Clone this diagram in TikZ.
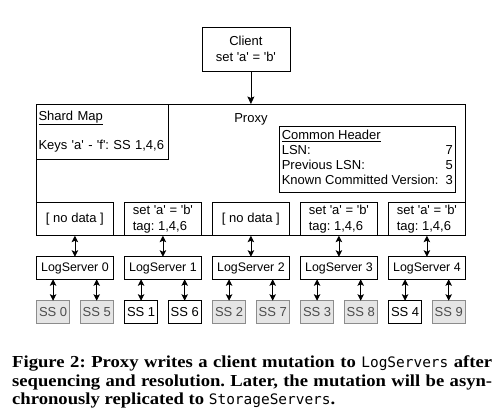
\documentclass[tikz,border=0pt]{standalone}
\usepackage{fontspec}
\setmainfont{Liberation Sans}
\newfontfamily\capfont{Liberation Serif}[FakeStretch=1.11]
\newfontfamily\capmono{DejaVu Sans Mono}[Scale=0.86]
\usetikzlibrary{arrows.meta,positioning}
\newcommand{\sq}{\textquotesingle}
\frenchspacing

\begin{document}
\begin{tikzpicture}[x=1pt,y=1pt,font=\fontsize{13}{15.6}\selectfont,
    box/.style={draw,line width=0.8pt,outer sep=0pt,inner sep=1pt,align=center},
    data/.style={box,minimum width=76.8pt,minimum height=33.4pt},
    logsrv/.style={box,minimum width=76.8pt,minimum height=22.6pt,font=\fontsize{12.4}{14.4}\selectfont},
    ss/.style={box,minimum width=33.2pt,minimum height=22.6pt},
    idle/.style={ss,draw=black!45,fill=black!10,text=black!70},
    dbl/.style={{Stealth[length=6.5pt,width=6.5pt,inset=1.5pt]}-{Stealth[length=6.5pt,width=6.5pt,inset=1.5pt]},line width=0.8pt}]
  \useasboundingbox (0,0) rectangle (504,-416);
  \node[box,minimum width=428.8pt,minimum height=131.7pt] (px) at (250.9,-169.85) {};
  \node[inner sep=0pt,below=9pt of px.north] (pxt) {Proxy};
  \node[box,minimum width=88pt,minimum height=44pt,above=33pt of px.north,xshift=-5pt] (cl) {Client\\set \sq a\sq{} = \sq b\sq};
  \node[box,align=left,text width=128pt,inner sep=2pt,minimum height=55pt,below right=0pt and 0pt of px.north west] (sm) {\underline{Shard Map}\\[13.4pt]Keys \sq a\sq{} - \sq f\sq: SS 1,4,6};
  \node[box,inner sep=2pt,minimum width=176pt,minimum height=66pt,below left=22pt and 10pt of px.north east] (ch) {\renewcommand{\arraystretch}{0.96}%
    \begin{tabular*}{171pt}{@{}l@{\extracolsep{\fill}}r@{}}
      \underline{Common Header} & \\
      LSN: & 7\\
      Previous LSN: & 5\\
      Known Committed Version: & 3
    \end{tabular*}};
  \draw[-{Stealth[length=7.5pt,width=7pt,inset=1.5pt]},line width=0.8pt] (cl.south -| px.north) -- (px.north);

  % per-LogServer buffers inside the proxy
  \node[data,above right=0pt and 0pt of px.south west] (d0) {[ no data ]};
  \node[data,align=left,right=11.2pt of d0] (d1) {set \sq a\sq{} = \sq b\sq\\tag: 1,4,6};
  \node[data,right=11.2pt of d1] (d2) {[ no data ]};
  \node[data,align=left,right=11.2pt of d2] (d3) {set \sq a\sq{} = \sq b\sq\\tag: 1,4,6};
  \node[data,align=left,right=11.2pt of d3] (d4) {set \sq a\sq{} = \sq b\sq\\tag: 1,4,6};

  \node[logsrv,below=21pt of d0] (l0) {LogServer 0};
  \node[logsrv,below=21pt of d1] (l1) {LogServer 1};
  \node[logsrv,below=21pt of d2] (l2) {LogServer 2};
  \node[logsrv,below=21pt of d3] (l3) {LogServer 3};
  \node[logsrv,below=21pt of d4] (l4) {LogServer 4};

  % storage servers, tagged ones in white
  \node[idle,below right=21.4pt and 0pt of l0.south west] (s0) {SS 0};
  \node[idle,below left=21.4pt and 0pt of l0.south east] (s5) {SS 5};
  \node[ss,below right=21.4pt and 0pt of l1.south west] (s1) {SS 1};
  \node[ss,below left=21.4pt and 0pt of l1.south east] (s6) {SS 6};
  \node[idle,below right=21.4pt and 0pt of l2.south west] (s2) {SS 2};
  \node[idle,below left=21.4pt and 0pt of l2.south east] (s7) {SS 7};
  \node[idle,below right=21.4pt and 0pt of l3.south west] (s3) {SS 3};
  \node[idle,below left=21.4pt and 0pt of l3.south east] (s8) {SS 8};
  \node[ss,below right=21.4pt and 0pt of l4.south west] (s4) {SS 4};
  \node[idle,below left=21.4pt and 0pt of l4.south east] (s9) {SS 9};

  \draw[dbl] (d0) -- (l0);
  \draw[dbl] (d1) -- (l1);
  \draw[dbl] (d2) -- (l2);
  \draw[dbl] (d3) -- (l3);
  \draw[dbl] (d4) -- (l4);
  \draw[dbl] (l0.south -| s0) -- (s0);
  \draw[dbl] (l0.south -| s5) -- (s5);
  \draw[dbl] (l1.south -| s1) -- (s1);
  \draw[dbl] (l1.south -| s6) -- (s6);
  \draw[dbl] (l2.south -| s2) -- (s2);
  \draw[dbl] (l2.south -| s7) -- (s7);
  \draw[dbl] (l3.south -| s3) -- (s3);
  \draw[dbl] (l3.south -| s8) -- (s8);
  \draw[dbl] (l4.south -| s4) -- (s4);
  \draw[dbl] (l4.south -| s9) -- (s9);

  \node[anchor=north west,inner sep=0pt,text width=480pt,align=justify,
    font=\capfont\bfseries\fontsize{16.8}{18.7}\selectfont] (cap) at (12,-355.5)
    {Figure 2: Proxy writes a client mutation to {\capmono\mdseries LogServers} after\linebreak
     sequencing and resolution. Later, the mutation will be asyn-\linebreak
     chronously replicated to {\capmono\mdseries StorageServers}.};
\end{tikzpicture}
\end{document}
